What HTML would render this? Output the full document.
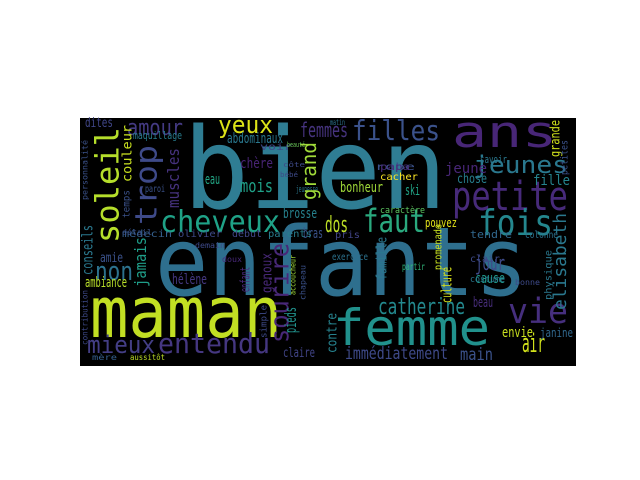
<!DOCTYPE html>
<html><head><meta charset="utf-8"><style>
html,body{margin:0;padding:0;background:#fff;width:640px;height:480px;overflow:hidden}
svg text{font-family:"DejaVu Sans Mono","Liberation Mono",monospace}
</style></head><body>
<svg id="c" width="640" height="480">
<rect x="80" y="118" width="496" height="248" fill="#000"/>
<g id="words"></g>
</svg>
<script>
const words = ["bien","enfants","maman","ans","femme","petite","fois","faut","vie","cheveux","filles","jeunes","yeux","amour","non","mieux","entendu","catherine","air","immédiatement","main","dos","mois","femmes","abdominaux","ambiance","brosse","dites","maquillage","hélène","bras","eau","chère","claire","amie","envie","janine","cause","jour","beau","bonheur","ski","chose","jeune","fille","savoir","pouvez","tendre","exercice","clair","partir","médecin","olivier","début","parents","paroi","voir","mère","aussitôt","pris","colonne","robe","papa","cacher","caractère","costume","bonne","détail","demain","doux","jeunesse","matin","beauté","côte","bébé"];
const xs0 = [183,155,90,452,333,452,478,363,508,160,352,473,218,127,95,87,158,378,522,345,460,325,240,300,227,85,283,85,133,172,303,205,240,283,100,502,540,475,475,473,340,405,457,445,533,480,425,470,332,470,402,122,178,232,268,145,260,92,130,335,525,375,380,380,380,470,515,122,195,222,296,330,287,283,280];
const xs1 = [447,528,282,557,490,568,553,425,568,280,440,568,273,183,133,155,270,465,545,448,493,348,273,348,283,127,317,113,182,207,323,220,273,315,123,533,573,505,505,493,383,420,487,487,570,507,457,512,368,500,425,172,222,262,312,165,292,117,165,360,558,415,410,418,425,505,540,152,225,242,318,345,305,305,298];
const ys = [208,295,337,147,345,210,235,232,323,232,140,173,133,135,280,353,353,314,352,359,360,232,192,137,143,287,218,127,139,284,238,184,168,357,262,337,337,283,270,307,192,195,183,173,185,163,227,238,260,262,270,237,237,237,237,192,150,360,360,238,238,170,170,180,213,282,285,235,248,262,192,125,147,167,177];
const sizes = [112,95,70,44,50,40,36,32,35,30,28,24,24,22,26,24,28,22,26,17,17,22,18,20,14,14,14,13,11,14,14,14,14,13,13,14,12,14,20,14,14,14,13,14,14,11,12,11,10,10,10,10,10,10,10,10,10,8,8,10,10,10,10,10,9,9,8,8,8,8,9,8,7,7,7];
const colors = ["#2f7d93","#2e6f8e","#c2df23","#482677","#21918c","#472a7a","#24878e","#2aa97e","#462f7e","#1fa287","#3b528b","#2a788e","#dde318","#443a83","#2c728e","#433e85","#453781","#23898e","#d2e21b","#3e4a89","#3b528b","#bddf26","#1fa187","#46337e","#2a788e","#b8de29","#26828e","#404688","#287c8e","#453882","#3b528b","#22a785","#482475","#414487","#3b528b","#cae11f","#31688e","#1f988b","#3e4a89","#472d7b","#a0da39","#20a386","#277f8e","#482677","#25848e","#2a788e","#e5e419","#31688e","#2c728e","#3e4a89","#31b57b","#35608d","#3e4a89","#404688","#287d8e","#3b528b","#3f4788","#355f8d","#bddf26","#414487","#2c728e","#3b528b","#472d7b","#fde725","#5ec962","#2a788e","#3e4a89","#3b528b","#3e4a89","#482878","#2a788e","#2c728e","#6ccd5a","#3e4a89","#3e4a89"];
const vwords = ["soleil","trop","sourire","elisabeth","grand","muscles","jamais","conseils","couleur","genoux","pieds","enfant","contre","culture","famille","grande","promenade","temps","physique","petites","contribution","personnalité","accoucheur","simple","chapeau"];
const vx0 = [100,137,270,552,298,170,140,86,125,265,287,243,325,443,377,550,435,123,545,561,82,82,290,261,300];
const vx1 = [120,158,290,567,317,180,147,93,132,272,297,250,337,452,387,560,442,130,552,568,88,88,296,267,306];
const vy0 = [127,145,243,213,142,148,237,225,125,253,307,267,313,267,237,120,224,190,250,140,290,140,255,305,265];
const vy1 = [243,225,343,310,200,208,287,275,182,293,333,292,353,303,280,157,270,218,300,175,345,200,295,338,300];
const vsizes = [32,30,26,18,20,16,16,15,13,14,16,13,14,14,14,13,11,10,10,10,8,8,8,9,8];
const vcolors = ["#b5de2b","#3e4a89","#482878","#2a788e","#a0da39","#46327e","#1f9e89","#2a788e","#c8e020","#482878","#21918c","#482878","#26828e","#d8e219","#2a788e","#d0e11c","#c8e020","#3b528b","#2a788e","#3b528b","#3e4a89","#3b528b","#a0da39","#3e4a89","#3b528b"];

const g = document.getElementById('words');
const NS = 'http://www.w3.org/2000/svg';
for (let i = 0; i < words.length; i++) {
  const t = document.createElementNS(NS, 'text');
  t.setAttribute('x', xs0[i]);
  t.setAttribute('y', ys[i]);
  t.setAttribute('font-size', sizes[i]);
  t.setAttribute('fill', colors[i]);
  t.setAttribute('textLength', xs1[i] - xs0[i]);
  t.setAttribute('lengthAdjust', 'spacingAndGlyphs');
  t.textContent = words[i];
  
  
  g.appendChild(t);
}
for (let i = 0; i < vwords.length; i++) {
  const t = document.createElementNS(NS, 'text');
  const bx = vx1[i] - vsizes[i] * 0.05;
  const by = vy1[i];
  t.setAttribute('x', bx);
  t.setAttribute('y', by);
  t.setAttribute('transform', 'rotate(-90 ' + bx + ' ' + by + ')');
  t.setAttribute('font-size', vsizes[i]);
  t.setAttribute('fill', vcolors[i]);
  t.setAttribute('textLength', vy1[i] - vy0[i]);
  t.setAttribute('lengthAdjust', 'spacingAndGlyphs');
  t.textContent = vwords[i];
  
  
  g.appendChild(t);
}
</script>
</body></html>
